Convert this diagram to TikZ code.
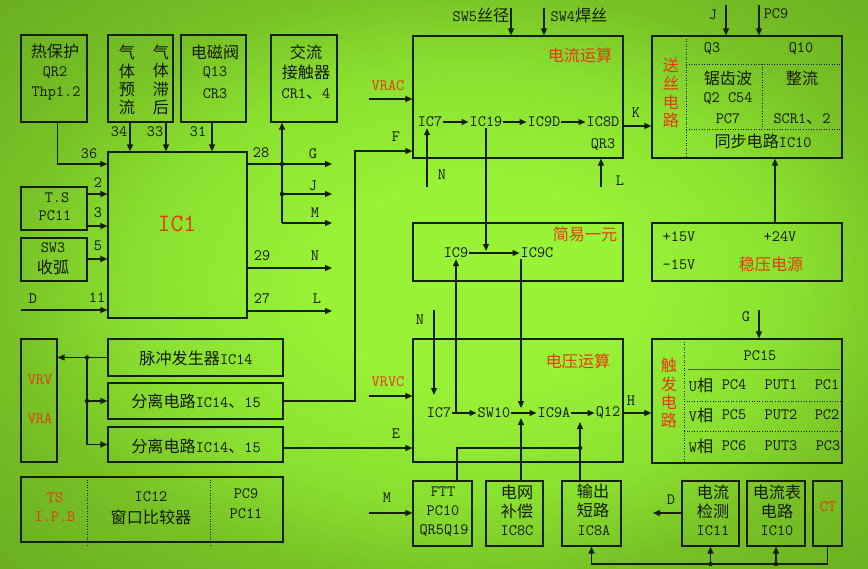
\documentclass[tikz,border=0pt]{standalone}
\usepackage{fontspec}
\newfontfamily\cjk[Scale=1.02]{Noto Sans CJK SC}
\usetikzlibrary{arrows.meta}
\definecolor{lc}{RGB}{22,32,8}
\definecolor{tc}{RGB}{20,25,10}
\definecolor{rc}{RGB}{228,58,16}
\definecolor{bgin}{RGB}{152,242,54}
\definecolor{bgmid}{RGB}{138,224,47}
\definecolor{bgedge}{RGB}{120,194,38}
\definecolor{bgout}{RGB}{106,174,32}
\definecolor{thinc}{RGB}{60,110,20}
\newcommand\zh[1]{{\cjk #1}}
\newcommand\fs{\ttfamily\fontsize{15.8}{18}\selectfont}
\newcommand\fsv{\ttfamily\fontsize{15.8}{18.3}\selectfont}
\newcommand\bx[5]{\node[box,minimum width={#4-#2},minimum height={#5-#3}] (#1) at ({(#2+#4)/2},{(#3+#5)/2}) {};}
\newcommand\tx[4]{\node[txt] (#1) at (#2,#3) {#4};}
\newcommand\rtx[4]{\node[rtxt] (#1) at (#2,#3) {#4};}
\pgfdeclareradialshading{bgsh}{\pgfpoint{3bp}{0bp}}{color(0bp)=(bgin); color(9bp)=(bgin); color(19bp)=(bgmid); color(26bp)=(bgedge); color(36bp)=(bgout); color(50bp)=(bgout)}
\begin{document}
\begin{tikzpicture}[x=1pt,y=-1pt,
  box/.style={draw=lc,line width=1.2pt,inner sep=0pt,rectangle},
  txt/.style={inner sep=1pt,text=tc,font=\fs},
  rtxt/.style={txt,text=rc},
  ln/.style={draw=lc,line width=1.2pt},
  arr/.style={ln,-{Triangle[length=7pt,width=6pt]}},
  dotln/.style={draw=lc,line width=0.9pt,dash pattern=on 1pt off 1.6pt},
  jn/.style={circle,fill=lc,inner sep=0pt,minimum size=4.5pt}]
\useasboundingbox (0,0) rectangle (868,568);
\shade[shading=bgsh] (0,0) rectangle (868,568);

% ---------- boxes ----------
\bx{hot}{21}{35}{87}{122}
\bx{gas}{108}{35}{173}{122}
\bx{valve}{181}{35}{246}{122}
\bx{cont}{271}{35}{337}{122}
\bx{ic1}{108}{152}{247}{318}
\bx{ts}{21}{187}{87}{230}
\bx{sw3}{21}{238}{87}{281}
\bx{cur}{413}{36}{623}{158}
\bx{simp}{413}{223}{623}{281}
\bx{volt}{413}{339}{623}{462}
\bx{feed}{652}{36}{842}{158}
\bx{reg}{652}{223}{842}{281}
\bx{trig}{652}{339}{842}{463}
\bx{ftt}{413}{481}{472}{546}
\bx{grid}{486}{481}{543}{546}
\bx{outsc}{562}{481}{621}{546}
\bx{cdet}{682}{481}{739}{546}
\bx{cmeter}{747}{481}{805}{546}
\bx{ct}{813}{481}{842}{546}
\bx{vr}{21}{339}{57}{462}
\bx{pulse}{108}{339}{283}{376}
\bx{sep1}{108}{383}{283}{419}
\bx{sep2}{108}{427}{283}{462}
\bx{tsb}{21}{477}{283}{542}

% ---------- internal partitions ----------
\draw[dotln] (686,36) -- (686,158);
\draw[dotln] (686,64) -- (842,64);
\draw[dotln] (686,129) -- (842,129);
\draw[dotln] (762,64) -- (762,129);
\draw[dotln] (684,339) -- (684,463);
\draw[dotln] (684,401) -- (842,401);
\draw[dotln] (684,431) -- (842,431);
\draw[draw=thinc,line width=0.9pt] (688,369) -- (840,369);
\draw[dotln] (87,477) -- (87,545);
\draw[dotln] (210,477) -- (210,545);

% ---------- texts ----------
\tx{t1}{55}{51}{\zh{热保护}}
\tx{t2}{55}{73}{QR2}
\tx{t3}{56}{93}{Thp1.2}
\node[txt,align=center,font=\fsv] (g1) at (127,80) {\zh{气}\\\zh{体}\\\zh{预}\\\zh{流}};
\node[txt,align=center,font=\fsv] (g2) at (161,80) {\zh{气}\\\zh{体}\\\zh{滞}\\\zh{后}};
\tx{t4}{215}{52}{\zh{电磁阀}}
\tx{t5}{215}{73}{Q13}
\tx{t6}{215}{94}{CR3}
\tx{t7}{306}{52}{\zh{交流}}
\tx{t8}{306}{72}{\zh{接触器}}
\tx{t9}{306}{94}{CR1\zh{、}4}
\node[rtxt,font=\ttfamily\fontsize{25}{27}\selectfont] (t10) at (177,224) {IC1};
\tx{l36}{89}{154}{36}
\tx{l34}{119}{132}{34}
\tx{l33}{155}{132}{33}
\tx{l31}{198}{132}{31}
\tx{l28}{261}{153}{28}
\tx{l2}{98}{183}{2}
\tx{l3}{98}{213}{3}
\tx{l5}{98}{246}{5}
\tx{l11}{97}{298}{11}
\tx{lD}{33}{299}{D}
\tx{l29}{262}{256}{29}
\tx{l27}{262}{299}{27}
\tx{lG}{313}{154}{G}
\tx{lJ}{313}{186}{J}
\tx{lM}{315}{213}{M}
\tx{lN}{315}{256}{N}
\tx{lL}{317}{299}{L}
\tx{t11}{57}{198}{T.S}
\tx{t12}{55}{216}{PC11}
\tx{t13}{53}{248}{SW3}
\tx{t14}{53}{267}{\zh{收弧}}

\tx{t15}{481}{15}{SW5\zh{丝径}}
\tx{t16}{579}{15}{SW4\zh{焊丝}}
\rtx{t17}{580}{55}{\zh{电流运算}}
\rtx{t18}{388}{86}{VRAC}
\tx{lF}{396}{137}{F}
\tx{lK}{636}{113}{K}
\tx{c7}{430}{122}{IC7}
\tx{c19}{486}{122}{IC19}
\tx{c9d}{544}{122}{IC9D}
\tx{c8d}{603}{122}{IC8D}
\tx{t19}{603}{145}{QR3}
\tx{lN2}{442}{175}{N}
\tx{lL2}{620}{181}{L}

\rtx{t20}{585}{234}{\zh{简易一元}}
\tx{s9}{456}{253}{IC9}
\tx{s9c}{537}{253}{IC9C}

\rtx{t21}{578}{361}{\zh{电压运算}}
\rtx{t22}{388}{382}{VRVC}
\tx{lE}{396}{434}{E}
\tx{lH}{631}{401}{H}
\tx{lM2}{387}{498}{M}
\tx{lN3}{420}{320}{N}
\tx{v7}{439}{413}{IC7}
\tx{vsw}{494}{413}{SW10}
\tx{v9a}{554}{413}{IC9A}
\tx{vq}{608}{413}{Q12}

\tx{t23}{713}{15}{J}
\tx{t24}{776}{14}{PC9}
\tx{t25}{712}{49}{Q3}
\tx{t26}{801}{49}{Q10}
\tx{t27}{728}{78}{\zh{锯齿波}}
\tx{t28}{728}{99}{Q2 C54}
\tx{t29}{728}{119}{PC7}
\tx{t30}{802}{78}{\zh{整流}}
\tx{t31}{802}{119}{SCR1\zh{、}2}
\tx{t32}{763}{141}{\zh{同步电路}IC10}
\node[rtxt,align=center,font=\fsv] (t33) at (671,93) {\zh{送}\\\zh{丝}\\\zh{电}\\\zh{路}};

\tx{t34}{679}{237}{+15V}
\tx{t35}{780}{237}{+24V}
\tx{t36}{679}{265}{-15V}
\rtx{t37}{771}{264}{\zh{稳压电源}}

\tx{lG2}{746}{317}{G}
\node[rtxt,align=center,font=\fsv] (t38) at (669,393) {\zh{触}\\\zh{发}\\\zh{电}\\\zh{路}};
\tx{t39}{760}{356}{PC15}
\tx{u1}{701}{385}{U\zh{相}}
\tx{u2}{734}{385}{PC4}
\tx{u3}{781}{385}{PUT1}
\tx{u4}{827}{385}{PC1}
\tx{v1}{701}{415}{V\zh{相}}
\tx{v2}{734}{415}{PC5}
\tx{v3}{781}{415}{PUT2}
\tx{v4}{827}{415}{PC2}
\tx{w1}{701}{446}{W\zh{相}}
\tx{w2}{734}{446}{PC6}
\tx{w3}{781}{446}{PUT3}
\tx{w4}{828}{446}{PC3}

\tx{b1}{443}{492}{FTT}
\tx{b2}{443}{511}{PC10}
\tx{b3}{444}{531}{QR5Q19}
\tx{b4}{517}{492}{\zh{电网}}
\tx{b5}{517}{511}{\zh{补偿}}
\tx{b6}{517}{531}{IC8C}
\tx{b7}{593}{491}{\zh{输出}}
\tx{b8}{593}{510}{\zh{短路}}
\tx{b9}{594}{531}{IC8A}
\tx{b10}{713}{492}{\zh{电流}}
\tx{b11}{713}{511}{\zh{检测}}
\tx{b12}{713}{531}{IC11}
\tx{b13}{777}{492}{\zh{电流表}}
\tx{b14}{777}{511}{\zh{电路}}
\tx{b15}{777}{531}{IC10}
\rtx{b16}{828}{507}{CT}
\tx{lD2}{671}{500}{D}

\rtx{t40}{40}{380}{VRV}
\rtx{t41}{40}{419}{VRA}
\tx{t42}{196}{358}{\zh{脉冲发生器}IC14}
\tx{t43}{196}{401}{\zh{分离电路}IC14\zh{、}15}
\tx{t44}{196}{446}{\zh{分离电路}IC14\zh{、}15}
\rtx{t45}{55}{498}{TS}
\rtx{t46}{55}{517}{I.P.B}
\tx{t47}{151}{497}{IC12}
\tx{t48}{151}{517}{\zh{窗口比较器}}
\tx{t49}{246}{494}{PC9}
\tx{t50}{246}{514}{PC11}

% ---------- helper coordinates ----------
\coordinate (r36) at (0,164);
\coordinate (r2) at (0,194);
\coordinate (r3) at (0,226);
\coordinate (r5) at (0,259);
\coordinate (dst) at (21,310);
\coordinate (a34) at (130,0);
\coordinate (a33) at (166,0);
\coordinate (a31) at (212,0);
\coordinate (busx) at (282,0);
\coordinate (gend) at (332,164);
\coordinate (jend) at (332,194);
\coordinate (mend) at (332,223);
\coordinate (nend) at (332,268);
\coordinate (lend) at (332,311);
\coordinate (fx) at (355,0);
\coordinate (fy) at (0,151);
\coordinate (vrac) at (369,99);
\coordinate (vrvc) at (369,396);
\coordinate (ey) at (0,448);
\coordinate (mst) at (369,513);
\coordinate (sw5) at (511,8);
\coordinate (sw4) at (544,8);
\coordinate (jf) at (726,5);
\coordinate (pc9) at (759,5);
\coordinate (ky) at (0,126);
\coordinate (hy) at (0,413);
\coordinate (rx) at (775,0);
\coordinate (gt) at (759,310);
\coordinate (cn) at (427,187);
\coordinate (cl) at (601,187);
\coordinate (d19) at (486,251);
\coordinate (vn) at (434,310);
\coordinate (vnt) at (434,395);
\coordinate (u9) at (456,413);
\coordinate (d9c) at (521,408);
\coordinate (u9a) at (521,418);
\coordinate (osx) at (580,422);
\coordinate (fttx) at (457,448);
\coordinate (bus) at (0,564);
\coordinate (dend) at (653,513);
\coordinate (jx) at (87,0);

% ---------- connectors: IC1 ----------
\draw[arr] ([xshift=3.5pt]hot.south) |- (ic1.west |- r36);
\draw[arr] (gas.south -| a34) -- (ic1.north -| a34);
\draw[arr] (gas.south -| a33) -- (ic1.north -| a33);
\draw[arr] (valve.south -| a31) -- (ic1.north -| a31);
\draw[arr] (ts.east |- r2) -- (ic1.west |- r2);
\draw[arr] (ts.east |- r3) -- (ic1.west |- r3);
\draw[arr] (sw3.east |- r5) -- (ic1.west |- r5);
\draw[arr] (dst) -- (ic1.west |- dst);
\draw[arr] (ic1.east |- gend) -- (gend);
\draw[arr] (busx |- mend) -- (cont.south -| busx);
\draw[arr] (busx |- jend) -- (jend);
\draw[arr] (busx |- mend) -- (mend);
\node[jn] (j1) at (busx |- gend) {};
\node[jn] (j2) at (busx |- jend) {};
\draw[arr] (ic1.east |- nend) -- (nend);
\draw[arr] (ic1.east |- lend) -- (lend);

% ---------- left lower ----------
\draw[arr] (pulse.west) -- (vr.east |- pulse.west);
\draw[ln] (jx |- pulse.west) -- (jx |- sep2.west);
\draw[arr] (jx |- sep1.west) -- (sep1.west);
\draw[arr] (jx |- sep2.west) -- (sep2.west);
\node[jn] (j3) at (jx |- pulse.west) {};
\node[jn] (j4) at (jx |- sep1.west) {};
\draw[arr] (sep1.east) -- (fx |- sep1.east) -- (fx |- fy) -- (cur.west |- fy);
\draw[arr] (sep2.east |- ey) -- (volt.west |- ey);

% ---------- current section ----------
\draw[arr] (vrac) -- (cur.west |- vrac);
\draw[arr] (sw5) -- (cur.north -| sw5);
\draw[arr] (sw4) -- (cur.north -| sw4);
\draw[arr] (c7) -- (c19);
\draw[arr] (c19) -- (c9d);
\draw[arr] (c9d) -- (c8d);
\draw[arr] (cn) -- (c7.south -| cn);
\draw[arr] (cl) -- (cur.south -| cl);
\draw[arr] (cur.east |- ky) -- (feed.west |- ky);
\draw[arr] (c19.south -| d19) -- (d19);

% ---------- simple unit ----------
\draw[arr] (s9) -- (s9c);
\draw[arr] (u9) -- (s9.south);
\draw[arr] (s9c.south -| d9c) -- (d9c);

% ---------- voltage section ----------
\draw[arr] (vrvc) -- (volt.west |- vrvc);
\draw[arr] (vn) -- (vnt);
\draw[arr] (v7) -- (vsw);
\draw[arr] (vsw) -- (v9a);
\draw[arr] (v9a) -- (vq);
\draw[arr] (volt.east |- hy) -- (trig.west |- hy);
\draw[arr] (grid.north -| u9a) -- (u9a);
\draw[arr] (outsc.north -| osx) -- (osx);
\draw[ln] (ftt.north -| fttx) -- (fttx) -- (osx |- fttx);
\node[jn] (j5) at (osx |- fttx) {};
\draw[arr] (mst) -- (ftt.west |- mst);

% ---------- right side ----------
\draw[arr] (jf) -- (feed.north -| jf);
\draw[arr] (pc9) -- (feed.north -| pc9);
\draw[arr] (reg.north -| rx) -- (feed.south -| rx);
\draw[arr] (gt) -- (trig.north -| gt);

% ---------- bottom bus ----------
\draw[arr] (ct.south) -- (ct.south |- bus) -- (outsc.south |- bus) -- (outsc.south);
\draw[arr] (cdet.south |- bus) -- (cdet.south);
\draw[arr] (cmeter.south |- bus) -- (cmeter.south);
\node[jn] (j6) at (cdet.south |- bus) {};
\node[jn] (j7) at (cmeter.south |- bus) {};
\draw[arr] (cdet.west |- dend) -- (dend);
\end{tikzpicture}
\end{document}
